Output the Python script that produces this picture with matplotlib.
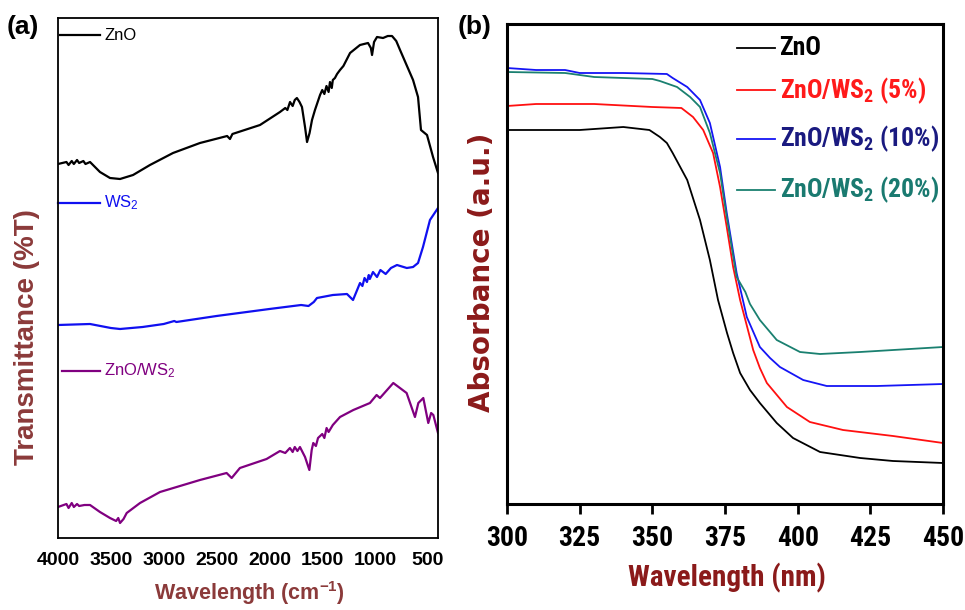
import numpy as np
import matplotlib
matplotlib.use('Agg')
from matplotlib import pyplot as plt

plt.rcParams['mathtext.default'] = 'regular'

# (a) FTIR, transmittance in arbitrary units
wn_zno = [4000, 3920, 3900, 3870, 3850, 3820, 3800, 3760, 3740, 3697, 3603, 3508, 3413, 3290, 3130,
          2912, 2657, 2400, 2373, 2350, 2089, 1900, 1850, 1830, 1805, 1780, 1760, 1740, 1715, 1692,
          1663, 1644, 1620, 1597, 1569, 1521, 1500, 1480, 1460, 1440, 1427, 1410, 1400, 1380, 1360,
          1332, 1300, 1237, 1143, 1067, 1040, 1029, 1010, 982, 925, 880, 840, 800, 764, 641, 594,
          566, 509, 452, 405]
t_zno = [374, 376, 373, 377, 374, 378, 375, 377, 374, 376, 366, 360, 359, 363, 373,
         385, 395, 402, 399, 404, 413, 426, 430, 428, 436, 432, 438, 440, 436, 431,
         411, 396, 405, 418, 428, 443, 448, 444, 452, 446, 456, 450, 458, 460, 464,
         468, 472, 485, 493, 495, 490, 483, 496, 501, 500, 502, 502, 497, 488, 458, 441,
         408, 403, 381, 365]

wn_ws2 = [4000, 3697, 3500, 3413, 3200, 3000, 2900, 2880, 2500, 2000, 1700, 1630, 1580, 1550,
          1400, 1266, 1209, 1170, 1143, 1120, 1100, 1077, 1060, 1050, 1020, 982, 950, 900, 850,
          793, 700, 641, 594, 547, 481, 405]
t_ws2 = [213, 214, 210, 209, 211, 214, 217, 216, 222, 229, 233, 232, 236, 240,
         243, 244, 238, 248, 255, 252, 260, 256, 263, 259, 266, 261, 268, 264, 270,
         273, 270, 271, 275, 291, 318, 330]

wn_mix = [4000, 3920, 3900, 3870, 3850, 3820, 3800, 3750, 3697, 3603, 3508, 3450, 3430, 3413,
          3380, 3350, 3224, 3035, 2657, 2405, 2357, 2279, 2027, 1900, 1850, 1806, 1780, 1760,
          1735, 1711, 1663, 1622, 1600, 1585, 1560, 1540, 1500, 1480, 1459, 1440, 1400, 1332,
          1206, 1049, 986, 954, 828, 702, 623, 591, 544, 497, 470, 449, 405]
t_mix = [31, 34, 30, 35, 31, 34, 32, 33, 33, 26, 20, 17, 20, 15,
         19, 25, 35, 46, 58, 65, 60, 70, 79, 87, 85, 90, 86, 91,
         87, 91, 81, 68, 88, 95, 92, 100, 104, 100, 110, 106, 113, 121,
         128, 135, 143, 140, 155, 145, 121, 135, 140, 115, 125, 123, 105]

# (b) UV-vis absorbance in arbitrary units
wl_zno = [300, 325, 340, 349, 352.6, 355, 357, 362, 366.4, 369.8, 372.6, 375.7, 377.8, 380.2,
          383.6, 387, 392.8, 398.4, 407.7, 421.5, 432.8, 450]
a_zno = [374, 374, 377, 374, 367, 361, 351, 324, 284, 244, 204, 171, 151, 131,
         114, 101, 81, 66, 52, 46, 43, 41]

wl_5 = [300, 310, 330, 350, 360, 364, 367.5, 370.9, 373.3, 375.6, 377.8, 380.2, 384.7, 387,
        389.4, 396.3, 404.2, 415.6, 432.8, 450]
a_5 = [398, 400, 400, 397, 396, 387, 374, 351, 317, 277, 237, 204, 154, 136,
       121, 97, 82, 74, 68, 61]

wl_10 = [300, 310, 320, 325, 340, 355, 357, 362, 366.4, 369.8, 373.3, 375.6, 379, 382.5, 387,
         390.5, 393.9, 401.9, 410, 427.3, 450]
a_10 = [436, 434, 434, 431, 431, 430, 426, 417, 404, 381, 337, 291, 231, 187, 157,
        146, 137, 124, 118, 118, 120]

wl_20 = [300, 320, 330, 350, 352.6, 358.5, 363, 366.4, 369.8, 373.3, 375.6, 379, 382, 383.6,
         387, 392.8, 400.8, 407.7, 421.5, 450]
a_20 = [432, 431, 427, 425, 423, 417, 407, 397, 371, 331, 287, 227, 212, 200,
        184, 164, 152, 150, 152, 157]

label_a = '#8B3A3A'
label_b = '#8B1A1A'
narrow = ['Roboto Condensed', 'DejaVu Sans']

fig = plt.figure(figsize=(9.65, 6.10), dpi=100)

# ---------- panel (a)
ax1 = fig.add_axes([58/965, 1-538/610, 380/965, 520/610])
ax1.plot(wn_zno, t_zno, color='black', lw=1.6)
ax1.plot(wn_ws2, t_ws2, color='#1010F0', lw=1.6)
ax1.plot(wn_mix, t_mix, color='#800080', lw=1.6)
ax1.set_xlim(4000, 405)
ax1.set_ylim(0, 520)
ax1.set_yticks([])
ax1.set_xticks([4000, 3500, 3000, 2500, 2000, 1500, 1000, 500])
ax1.tick_params(axis='x', length=0, pad=10)
for lb in ax1.get_xticklabels():
    lb.set_fontfamily('Liberation Sans')
    lb.set_fontweight('bold')
    lb.set_fontsize(14)
for sp in ax1.spines.values():
    sp.set_linewidth(1.3)

for yy, x0, txt, col in [(0.967, 0.005, 'ZnO', 'black'),
                         (0.644, 0.0, 'WS$_2$', '#1010F0'),
                         (0.321, 0.011, 'ZnO/WS$_2$', '#800080')]:
    ax1.plot([x0, 0.11], [yy, yy], color=col, lw=1.6, transform=ax1.transAxes, clip_on=False)
    ax1.text(0.122, yy, txt, color=col, fontsize=12, family='Liberation Sans',
             va='center', ha='left', transform=ax1.transAxes)

fig.text(249/965, 1-593/610, 'Wavelength (cm$^{-1}$)', color=label_a, fontsize=15.5,
         fontweight='bold', family='Liberation Sans', ha='center', va='center')
fig.text(27/965, 1-337/610, 'Transmittance (%T)', color=label_a, fontsize=20,
         fontweight='bold', family='Liberation Sans', rotation=90, ha='center', va='center')
fig.text(7/965, 1-27/610, '(a)', fontsize=19, fontweight='bold', family='Liberation Sans',
         ha='left', va='center')

# ---------- panel (b)
ax2 = fig.add_axes([507/965, 1-504/610, 436/965, 480/610])
ax2.plot(wl_zno, a_zno, color='black', lw=1.3)
ax2.plot(wl_5, a_5, color='#FF1010', lw=1.3)
ax2.plot(wl_10, a_10, color='#1515F5', lw=1.3)
ax2.plot(wl_20, a_20, color='#1A8070', lw=1.3)
ax2.set_xlim(300, 450)
ax2.set_ylim(0, 480)
ax2.set_yticks([])
ax2.set_xticks([300, 325, 350, 375, 400, 425, 450])
ax2.tick_params(axis='x', length=7, width=2, direction='out', pad=8)
for lb in ax2.get_xticklabels():
    lb.set_fontfamily(narrow)
    lb.set_fontweight('bold')
    lb.set_fontsize(20)
for sp in ax2.spines.values():
    sp.set_linewidth(2.2)

legend_b = [(0.95, 'ZnO', 'black', 'black'),
            (0.862, 'ZnO/WS$_2$ (5%)', '#FF1010', '#FF1A1A'),
            (0.76, 'ZnO/WS$_2$ (10%)', '#1515F5', '#1A1A80'),
            (0.655, 'ZnO/WS$_2$ (20%)', '#1A8070', '#1A7A70')]
for yy, txt, lc, tc in legend_b:
    ax2.plot([0.528, 0.615], [yy, yy], color=lc, lw=1.3, transform=ax2.transAxes)
    ax2.text(0.625, yy, txt, color=tc, fontsize=18.5, fontweight='bold', family=narrow,
             va='center', ha='left', transform=ax2.transAxes)

fig.text(727/965, 1-578/610, 'Wavelength (nm)', color=label_b, fontsize=21,
         fontweight='bold', family=narrow, ha='center', va='center')
fig.text(482/965, 1-272/610, 'Absorbance (a.u.)', color=label_b, fontsize=20,
         fontweight='bold', family='DejaVu Sans', rotation=90, ha='center', va='center')
fig.text(458/965, 1-27/610, '(b)', fontsize=19, fontweight='bold', family='Liberation Sans',
         ha='left', va='center')

fig.savefig('out.png', dpi=100)
